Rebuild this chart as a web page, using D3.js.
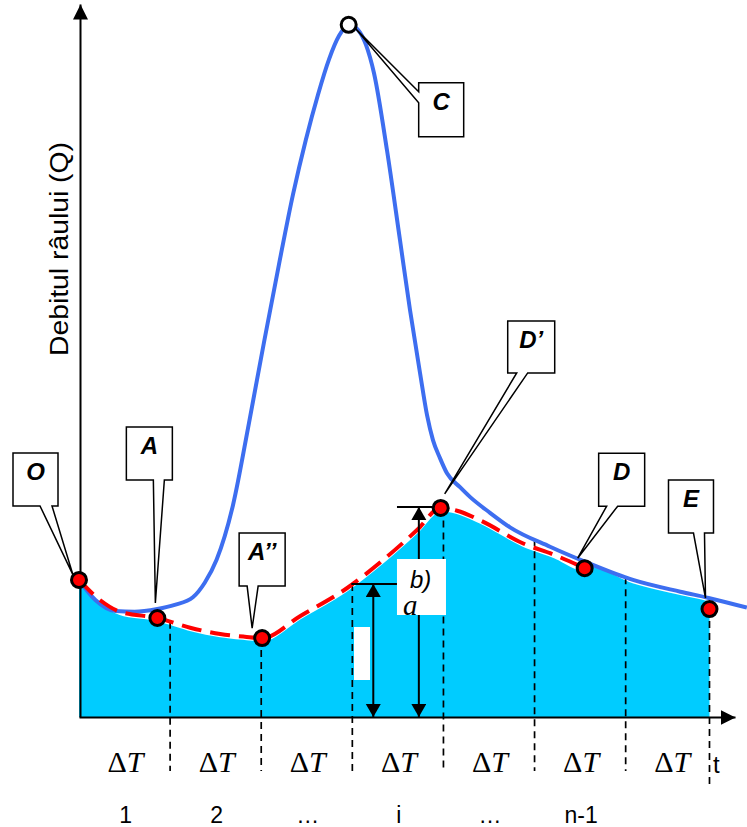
<!DOCTYPE html>
<html>
<head>
<meta charset="utf-8">
<script src="https://cdn.jsdelivr.net/npm/d3@7"></script>
<style>
  html, body { margin: 0; padding: 0; background: #fff; }
  svg { display: block; }
</style>
</head>
<body>
<svg id="chart" width="747" height="827"></svg>
<script>
// Flood hydrograph with baseflow separation.
// Time is measured in ΔT intervals, discharge as a share (%) of the peak.

// Observed river discharge (blue hydrograph)
const hydroT = [0, 0.18, 0.40, 0.61, 0.86, 1.05, 1.25, 1.38, 1.51, 1.69, 1.866, 2.03, 2.195, 2.349, 2.49,
                2.623, 2.744, 2.854, 2.964, 3.06, 3.15, 3.238, 3.380, 3.523, 3.633, 3.743, 3.820, 3.885,
                3.962, 4.039, 4.182, 4.291, 4.511, 4.731, 5.17, 5.56, 6.08, 6.60, 6.91, 7.33];
const hydroQ = [19.8, 16.9, 15.3, 15.2, 15.6, 16.2, 17.3, 19.4, 22.7, 30.6, 42.5, 54.1, 65.4, 75.5, 83.4,
                89.9, 95.0, 98.4, 100, 99.3, 97.1, 93.0, 81.9, 68.9, 58.8, 49.7, 43.6, 40.0,
                37.4, 35.2, 33.2, 31.8, 29.5, 27.4, 24.6, 22.4, 19.8, 18.1, 17.2, 15.8];

// Separated baseflow (red dashed line)
const baseT = [0, 0.23, 0.45, 0.86, 1.22, 1.55, 1.82, 2.01, 2.43, 2.94, 3.34, 3.71, 3.97, 4.15, 4.42, 4.87, 5.22, 5.55];
const baseQ = [19.8, 16.9, 15.2, 14.3, 12.9, 12.0, 11.6, 11.4, 14.6, 18.6, 22.7, 27.0, 30.2, 29.8, 28.3, 25.1, 23.4, 21.5];

// Characteristic points
const pointNames = ["O", "A", "A’’", "C", "D’", "D", "E"];
const pointT     = [0, 0.86, 2.01, 2.96, 3.97, 5.55, 6.92];
const pointQ     = [19.8, 14.3, 11.4, 100, 30.2, 21.5, 15.6];

// Time intervals
const intervalBounds = [1, 2, 3, 4, 5, 6];
const intervalNames  = ["1", "2", "…", "i", "…", "n-1"];
const intervalCount  = 7;

const svg = d3.select("#chart");
const x = d3.scaleLinear().domain([0, 7.2]).range([79, 735]);
const y = d3.scaleLinear().domain([0, 103]).range([717, 4]);

const interp = (ts, qs, t) => {
  let i = d3.bisectRight(ts, t);
  i = Math.max(1, Math.min(ts.length - 1, i));
  const k = (t - ts[i - 1]) / (ts[i] - ts[i - 1]);
  return qs[i - 1] + k * (qs[i] - qs[i - 1]);
};

const hydro = hydroT.map((t, i) => ({ t, q: hydroQ[i] }));
const base  = baseT.map((t, i) => ({ t, q: baseQ[i] }));
const points = pointNames.map((n, i) => ({ name: n, t: pointT[i], q: pointQ[i] }));
const pt = name => points.find(p => p.name === name);

// ---- arrow markers ----
const defs = svg.append("defs");
defs.append("marker").attr("id", "axisHead")
  .attr("markerUnits", "userSpaceOnUse").attr("markerWidth", 16).attr("markerHeight", 16)
  .attr("refX", 15).attr("refY", 7.5).attr("orient", "auto")
  .append("path").attr("d", "M0,0 L15,7.5 L0,15 Z").attr("fill", "#000");
defs.append("marker").attr("id", "dimHead")
  .attr("markerUnits", "userSpaceOnUse").attr("markerWidth", 16).attr("markerHeight", 16)
  .attr("refX", 13).attr("refY", 7.5).attr("orient", "auto-start-reverse")
  .append("path").attr("d", "M0,0 L13,7.5 L0,15 Z").attr("fill", "#000");

// ---- baseflow area (cyan) ----
const E = pt("E");
const fillPts = base.concat(
  hydro.filter(d => d.t > baseT[baseT.length - 1] && d.t < E.t),
  [{ t: E.t, q: interp(hydroT, hydroQ, E.t) }]
);
svg.append("path")
  .attr("d", d3.area().curve(d3.curveMonotoneX)
    .x(d => x(d.t)).y0(y(0)).y1(d => y(d.q) + 2)(fillPts))
  .attr("fill", "#00CCFF");
svg.append("path")
  .attr("d", d3.line().curve(d3.curveMonotoneX)
    .x(d => x(d.t)).y(d => y(d.q) + 2)(fillPts))
  .attr("fill", "none").attr("stroke", "#fff").attr("stroke-width", 2.5);

// ---- interval dividers ----
const dividers = intervalBounds.map(t => ({
  t,
  top: t <= 4 ? interp(baseT, baseQ, t) : interp(hydroT, hydroQ, t),
  long: false
})).concat([{ t: E.t, top: E.q, long: true }]);
svg.append("g").selectAll("line").data(dividers).join("line")
  .attr("x1", d => x(d.t)).attr("x2", d => x(d.t))
  .attr("y1", d => y(d.top)).attr("y2", d => d.long ? 786 : 771)
  .attr("stroke", "#000").attr("stroke-width", 1.7).attr("stroke-dasharray", "7,5");

// ---- hydrograph and baseflow lines ----
svg.append("path")
  .attr("d", d3.line().curve(d3.curveMonotoneX).x(d => x(d.t)).y(d => y(d.q))(hydro))
  .attr("fill", "none").attr("stroke", "#3D6EF0").attr("stroke-width", 4);
svg.append("path")
  .attr("d", d3.line().curve(d3.curveMonotoneX).x(d => x(d.t)).y(d => y(d.q))(base))
  .attr("fill", "none").attr("stroke", "#FF0000").attr("stroke-width", 4)
  .attr("stroke-dasharray", "20,9");

// ---- a / b dimension arrows ----
const Dp = pt("D’");
const aLevel = interp(baseT, baseQ, 3);
const aArrowT = 3.23, bArrowT = 3.73, boxT = 3.49;
const dim = svg.append("g").attr("stroke", "#000").attr("stroke-width", 2);
dim.append("line").attr("x1", x(3) - 1).attr("x2", x(boxT)).attr("y1", y(aLevel)).attr("y2", y(aLevel));
dim.append("line").attr("x1", x(boxT)).attr("x2", x(Dp.t) - 8).attr("y1", y(Dp.q) - 1).attr("y2", y(Dp.q) - 1);
dim.append("line").attr("x1", x(aArrowT)).attr("x2", x(aArrowT))
  .attr("y1", y(aLevel)).attr("y2", y(0))
  .attr("marker-start", "url(#dimHead)").attr("marker-end", "url(#dimHead)");
dim.append("line").attr("x1", x(bArrowT)).attr("x2", x(bArrowT))
  .attr("y1", y(Dp.q) - 1).attr("y2", y(0))
  .attr("marker-start", "url(#dimHead)").attr("marker-end", "url(#dimHead)");

svg.append("rect").attr("x", 354).attr("y", 627).attr("width", 16).attr("height", 53).attr("fill", "#fff");
svg.append("rect").attr("x", x(boxT)).attr("y", 559).attr("width", 49).attr("height", 56).attr("fill", "#fff");
svg.append("text").attr("x", 410).attr("y", 588)
  .attr("font-family", "Liberation Sans, Arial, sans-serif").attr("font-style", "italic")
  .attr("font-size", 24).text("b)");
svg.append("text").attr("x", 403).attr("y", 615)
  .attr("font-family", "Liberation Serif, Times New Roman, serif").attr("font-style", "italic")
  .attr("font-size", 29).text("a");

// ---- axes ----
const axX = svg.append("g").attr("transform", `translate(0,${y(0)})`)
  .call(d3.axisBottom(x).tickValues([]).tickSizeOuter(0));
const axY = svg.append("g").attr("transform", `translate(${x(0) + 1},0)`)
  .call(d3.axisLeft(y).tickValues([]).tickSizeOuter(0));
[axX, axY].forEach(g => g.select(".domain")
  .attr("stroke", "#000").attr("stroke-width", 2).attr("marker-end", "url(#axisHead)"));

svg.append("text")
  .attr("transform", `translate(68,249) rotate(-90)`)
  .attr("text-anchor", "middle")
  .attr("font-family", "Liberation Sans, Arial, sans-serif").attr("font-size", 25)
  .attr("textLength", 214).attr("lengthAdjust", "spacingAndGlyphs")
  .text("Debitul râului (Q)");

svg.append("text").attr("x", 713).attr("y", 773)
  .attr("font-family", "Liberation Sans, Arial, sans-serif").attr("font-size", 24).text("t");

// ---- interval labels ----
const mids = d3.range(intervalCount).map(i => i + 0.5);
const dt = svg.append("g").selectAll("text").data(mids).join("text")
  .attr("x", d => x(d) + 1).attr("y", 772).attr("text-anchor", "middle")
  .attr("font-family", "Liberation Serif, Times New Roman, serif").attr("font-size", 30);
dt.append("tspan").text("Δ");
dt.append("tspan").attr("font-style", "italic").text("T");

svg.append("g").selectAll("text").data(intervalNames).join("text")
  .attr("x", (d, i) => x(i + 0.5) + 1).attr("y", 823).attr("text-anchor", "middle")
  .attr("font-family", "Liberation Sans, Arial, sans-serif").attr("font-size", 23)
  .text(d => d);

// ---- callouts ----
const callouts = [
  { name: "O",   box: [-66, -127, 45, 53], base: [-39, -27], tip: [-6, -5] },
  { name: "A",   box: [-31, -191, 46, 53], base: [-4, 7],    tip: [-2, -15] },
  { name: "A’’", box: [-23, -105, 46, 53], base: [-15, -4],  tip: [-10, -10] },
  { name: "C",   box: [70, 58, 45, 54],    base: [67, 78],   tip: [7, 4], side: "left" },
  { name: "D’",  box: [67, -187, 47, 52],  base: [76, 87],   tip: [4, -14] },
  { name: "D",   box: [14, -115, 46, 53],  base: [22, 33],   tip: [-7, -10] },
  { name: "E",   box: [-41, -129, 45, 53], base: [-16, -5],  tip: [-4, -11] }
];
const cg = svg.append("g");
callouts.forEach(c => {
  const p = pt(c.name);
  const mx = x(p.t), my = y(p.q);
  const bx = mx + c.box[0], by = my + c.box[1], bw = c.box[2], bh = c.box[3];
  const tx = mx + c.tip[0], ty = my + c.tip[1];
  let d;
  if (c.side === "left") {
    d = `M${bx},${by}H${bx + bw}V${by + bh}H${bx}V${my + c.base[1]}L${tx},${ty}L${bx},${my + c.base[0]}Z`;
  } else {
    d = `M${bx},${by}H${bx + bw}V${by + bh}H${mx + c.base[1]}L${tx},${ty}L${mx + c.base[0]},${by + bh}H${bx}Z`;
  }
  cg.append("path").attr("d", d).attr("fill", "#fff").attr("stroke", "#000")
    .attr("stroke-width", 1.5).attr("stroke-linejoin", "miter");
  cg.append("text").attr("x", bx + bw / 2).attr("y", by + 27).attr("text-anchor", "middle")
    .attr("font-family", "Liberation Sans, Arial, sans-serif").attr("font-weight", "bold")
    .attr("font-style", "italic").attr("font-size", 24).text(c.name);
});

// ---- point markers ----
svg.append("g").selectAll("circle").data(points).join("circle")
  .attr("cx", d => x(d.t)).attr("cy", d => y(d.q)).attr("r", 7.5)
  .attr("fill", d => d.name === "C" ? "#fff" : "#FF0000")
  .attr("stroke", "#000").attr("stroke-width", 3);
</script>
</body>
</html>
